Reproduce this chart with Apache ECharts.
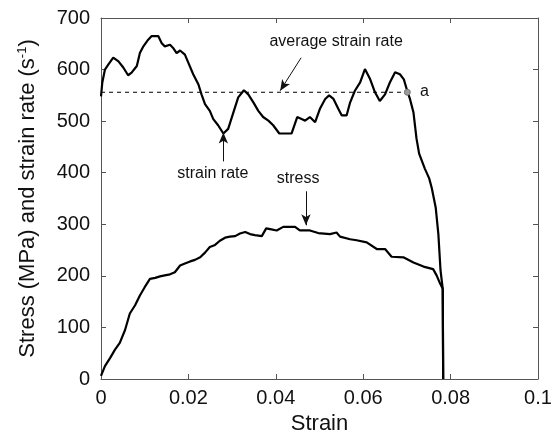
<!DOCTYPE html>
<html>
<head>
<meta charset="utf-8">
<script src="https://cdn.jsdelivr.net/npm/echarts@6/dist/echarts.min.js"></script>
<style>
  html, body { margin: 0; padding: 0; background: #fff; }
  #chart { width: 557px; height: 440px; }
</style>
</head>
<body>
<div id="chart"></div>
<script>
// strain rate curve (s-1) vs strain
const rateStrain = [0, 0.0003, 0.0009, 0.0017, 0.0028, 0.004, 0.0051, 0.0062, 0.007, 0.0082, 0.0089, 0.0097,
  0.0108, 0.0116, 0.0131, 0.0139, 0.0146, 0.0158, 0.0165, 0.0173, 0.0181, 0.0192, 0.02, 0.0211, 0.0223,
  0.023, 0.0238, 0.0249, 0.0257, 0.0268, 0.028, 0.0291, 0.0303, 0.0314, 0.0327, 0.0337, 0.0349, 0.036,
  0.0371, 0.0383, 0.0394, 0.0408, 0.0436, 0.0449, 0.0459, 0.0467, 0.0478, 0.049, 0.0501, 0.0513, 0.0522,
  0.0532, 0.0543, 0.0551, 0.0562, 0.057, 0.0581, 0.0593, 0.0604, 0.0616, 0.0627, 0.0638, 0.065, 0.0661,
  0.0673, 0.0684, 0.0693, 0.0701, 0.0707, 0.0715, 0.0722, 0.0728, 0.0741, 0.0751, 0.0757, 0.0766, 0.0772,
  0.0777, 0.0782, 0.0783]
const rateValue = [548, 575, 600, 610, 623, 616, 604, 589, 594, 607, 632, 645,
  658, 665, 665, 651, 645, 648, 642, 632, 637, 629, 613, 591, 571,
  552, 533, 520, 504, 492, 476, 485, 517, 546, 560, 552, 536, 520,
  508, 501, 492, 476, 476, 508, 504, 501, 508, 498, 524, 543, 550,
  543, 524, 511, 511, 536, 559, 575, 601, 581, 556, 539, 552, 575,
  595, 591, 581, 558, 543, 517, 466, 437, 408, 389, 370, 332, 281,
  210, 175, 0]

// stress curve (MPa) vs strain
const stressStrain = [0, 0.0009, 0.0021, 0.0032, 0.0043, 0.0055, 0.0066, 0.0078, 0.0089, 0.01, 0.0112, 0.0124,
  0.0135, 0.0146, 0.0158, 0.0169, 0.0181, 0.0192, 0.0204, 0.0215, 0.0227, 0.0238, 0.0249, 0.0261, 0.0272,
  0.0284, 0.0295, 0.0307, 0.0318, 0.033, 0.0341, 0.0352, 0.0368, 0.0378, 0.039, 0.0402, 0.0417, 0.0444,
  0.0455, 0.0478, 0.0497, 0.0524, 0.0539, 0.0547, 0.057, 0.0585, 0.0608, 0.0631, 0.065, 0.0665, 0.0692,
  0.0715, 0.0738, 0.076, 0.0768, 0.0776, 0.0782, 0.0783]
const stressValue = [6, 25, 41, 57, 70, 95, 127, 143, 162, 178, 194, 196,
  199, 201, 203, 207, 220, 224, 228, 231, 236, 245, 256, 260, 268,
  274, 276, 277, 282, 285, 281, 279, 277, 292, 290, 288, 295, 295,
  288, 288, 283, 281, 284, 276, 271, 269, 265, 252, 252, 237, 236,
  226, 218, 213, 201, 185, 175, 0]

// average strain rate line and point "a"
const avgStrain = [0, 0.0701]
const avgRate = [556, 556]
const pointA = [0.0701, 556]

const font = 'Liberation Sans, Arial, sans-serif'
const ink = '#111'
const frame = '#555'

const pairs = (xs, ys) => xs.map((x, i) => [x, ys[i]])

const chart = echarts.init(document.getElementById('chart'))

const axisCommon = {
  type: 'value',
  axisLine: { show: true, onZero: false, lineStyle: { color: frame, width: 1 } },
  axisTick: { show: true, inside: true, length: 5, lineStyle: { color: frame } },
  splitLine: { show: false }
}

// text annotations placed in data coordinates
const textPoint = (coord, text) => ({
  type: 'scatter',
  data: [coord],
  symbolSize: 1,
  itemStyle: { color: 'rgba(0,0,0,0)', opacity: 1 },
  silent: true,
  label: {
    show: true,
    position: 'inside',
    formatter: text,
    color: ink,
    opacity: 1,
    textBorderWidth: 0,
    fontFamily: font,
    fontSize: 16,
    align: 'center',
    verticalAlign: 'middle'
  }
})

const arrow = (from, to) => ({
  silent: true,
  symbol: ['none', 'arrow'],
  symbolSize: [7, 11],
  label: { show: false },
  lineStyle: { color: ink, type: 'solid', width: 1, opacity: 1 },
  data: [[{ coord: from }, { coord: to }]]
})

chart.setOption({
  animation: false,
  grid: { left: 101, top: 18, right: 19, bottom: 57 },
  xAxis: [
    {
      ...axisCommon,
      min: 0, max: 0.1, interval: 0.02,
      position: 'bottom',
      name: 'Strain',
      nameLocation: 'middle',
      nameGap: 34,
      nameTextStyle: { fontFamily: font, fontSize: 22, color: ink },
      axisLabel: {
        margin: 9,
        fontFamily: font, fontSize: 20, color: ink,
        formatter: v => String(+v.toFixed(2))
      }
    },
    {
      ...axisCommon,
      min: 0, max: 0.1, interval: 0.02,
      position: 'top',
      axisLabel: { show: false }
    }
  ],
  yAxis: [
    {
      ...axisCommon,
      min: 0, max: 700, interval: 100,
      position: 'left',
      name: 'Stress (MPa) and strain rate (s{sup|-1})',
      nameLocation: 'middle',
      nameGap: 62,
      nameTextStyle: {
        fontFamily: font, fontSize: 22, color: ink,
        rich: { sup: { fontFamily: font, fontSize: 13, color: ink, verticalAlign: 'top', padding: [0, 0, 10, 0] } }
      },
      axisLabel: { margin: 11, fontFamily: font, fontSize: 20, color: ink }
    },
    {
      ...axisCommon,
      min: 0, max: 700, interval: 100,
      position: 'right',
      axisLabel: { show: false }
    }
  ],
  series: [
    {
      type: 'line',
      data: pairs(avgStrain, avgRate),
      symbol: 'none',
      silent: true,
      lineStyle: { color: '#000', width: 1, type: [4, 4] },
      markLine: arrow([0.0458, 623], [0.041, 559])
    },
    {
      type: 'line',
      data: pairs(rateStrain, rateValue),
      symbol: 'none',
      silent: true,
      lineStyle: { color: '#000', width: 2.2 },
      markLine: arrow([0.028, 422], [0.028, 478])
    },
    {
      type: 'line',
      data: pairs(stressStrain, stressValue),
      symbol: 'none',
      silent: true,
      lineStyle: { color: '#000', width: 2.2 },
      markLine: arrow([0.0469, 364], [0.0469, 298])
    },
    {
      type: 'scatter',
      data: [pointA],
      symbol: 'circle',
      symbolSize: 6,
      silent: true,
      itemStyle: { color: '#9a9a9a', borderColor: '#777', borderWidth: 1, opacity: 1 },
      z: 5
    },
    textPoint([0.0538, 655], 'average strain rate'),
    textPoint([0.0256, 399], 'strain rate'),
    textPoint([0.0451, 389], 'stress'),
    textPoint([0.0740, 557], 'a')
  ]
})
</script>
</body>
</html>
